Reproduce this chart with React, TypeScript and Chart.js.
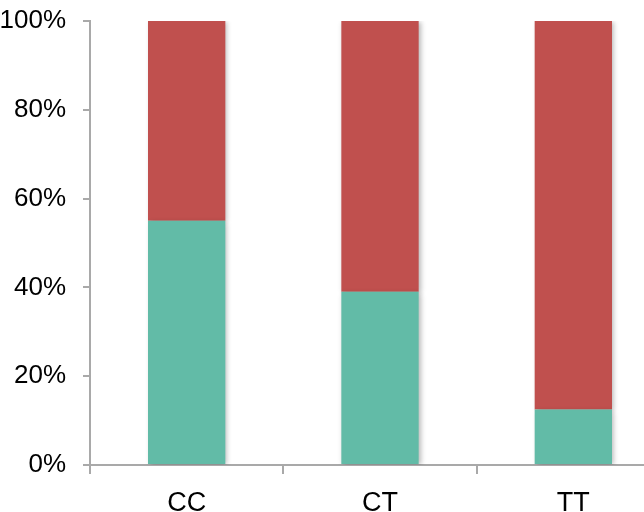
import React, { useEffect, useRef } from "react";
import { Chart, registerables } from "chart.js";

Chart.register(...registerables);

const categories = ["CC", "CT", "TT"];
const greenValues = [55, 39, 12.5];
const redValues = [45, 61, 87.5];
const yTicks = [0, 20, 40, 60, 80, 100];

const shadowPlugin = {
  id: "barShadow",
  beforeDatasetDraw(chart: any) {
    const ctx = chart.ctx;
    ctx.save();
    ctx.shadowColor = "rgba(0,0,0,0.28)";
    ctx.shadowBlur = 5;
    ctx.shadowOffsetX = 2;
    ctx.shadowOffsetY = 1;
  },
  afterDatasetDraw(chart: any) {
    chart.ctx.restore();
  },
};

export default function App() {
  const ref = useRef<HTMLCanvasElement>(null);
  useEffect(() => {
    if (!ref.current) return;
    const axisColor = "#a9a9a9";
    const chart = new Chart(ref.current, {
      type: "bar",
      data: {
        labels: categories,
        datasets: [
          {
            data: greenValues,
            backgroundColor: "#62bba7",
            borderWidth: 0,
            barPercentage: 0.4,
            categoryPercentage: 1,
          },
          {
            data: redValues,
            backgroundColor: "#c0504e",
            borderWidth: 0,
            barPercentage: 0.4,
            categoryPercentage: 1,
          },
        ],
      },
      plugins: [shadowPlugin],
      options: {
        animation: false,
        responsive: false,
        maintainAspectRatio: false,
        layout: { padding: { top: 21, right: 10, left: 0, bottom: 0 } },
        plugins: { legend: { display: false }, tooltip: { enabled: false } },
        scales: {
          x: {
            stacked: true,
            afterFit: (s: any) => {
              s.height = 47;
              s.paddingLeft = 0;
              s.paddingRight = 0;
            },
            border: { display: true, color: axisColor, width: 2 },
            grid: {
              offset: true,
              drawOnChartArea: false,
              drawTicks: true,
              tickLength: 9,
              color: axisColor,
              lineWidth: 2,
            },
            ticks: {
              color: "#000",
              padding: 13,
              font: { family: "Liberation Sans, Arial, sans-serif", size: 27 },
            },
          },
          y: {
            stacked: true,
            min: 0,
            max: 100,
            afterFit: (s: any) => {
              s.width = 90;
              s.paddingTop = 0;
              s.paddingBottom = 0;
            },
            afterBuildTicks: (s: any) => {
              s.ticks = yTicks.map((v) => ({ value: v }));
            },
            border: { display: true, color: axisColor, width: 2 },
            grid: {
              drawOnChartArea: false,
              drawTicks: true,
              tickLength: 7,
              color: axisColor,
              lineWidth: 2,
            },
            ticks: {
              color: "#000",
              padding: 17,
              callback: (v: any) => v + "%",
              font: { family: "Liberation Sans, Arial, sans-serif", size: 26 },
            },
          },
        },
      },
    });
    return () => chart.destroy();
  }, []);
  return (
    <div
      style={{
        position: "fixed",
        left: 0,
        top: 0,
        width: 644,
        height: 512,
        overflow: "hidden",
        background: "#fff",
      }}
    >
      <canvas ref={ref} width={680} height={512} style={{ width: 680, height: 512, display: "block" }} />
    </div>
  );
}
